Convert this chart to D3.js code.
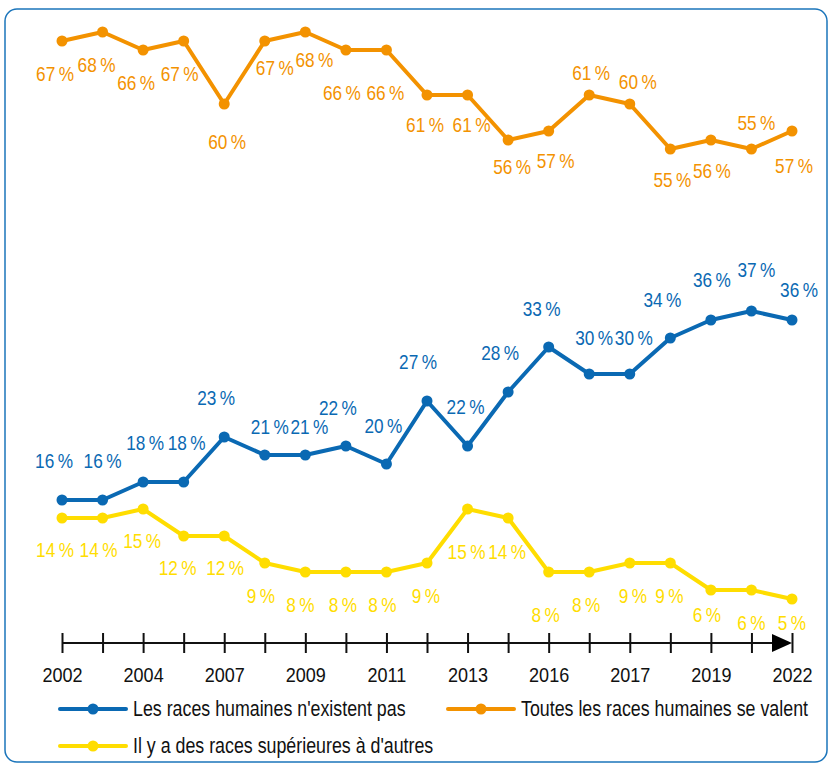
<!DOCTYPE html>
<html>
<head>
<meta charset="utf-8">
<script src="https://cdn.jsdelivr.net/npm/d3@7"></script>
<style>
  body { margin: 0; background: #fff; }
  svg text { font-family: "Liberation Sans", Arial, sans-serif; }
</style>
</head>
<body>
<svg id="chart" width="831" height="765"></svg>
<script>
// survey waves (19), only every other one is labelled on the axis
const waves = d3.range(19);
const tickLabels = ['2002', '2004', '2007', '2009', '2011', '2013', '2016', '2017', '2019', '2022'];

const seriesNames = ['Les races humaines n\'existent pas', 'Toutes les races humaines se valent', 'Il y a des races supérieures à d\'autres'];
const valuesExistPas = [16, 16, 18, 18, 23, 21, 21, 22, 20, 27, 22, 28, 33, 30, 30, 34, 36, 37, 36];
const valuesSeValent = [67, 68, 66, 67, 60, 67, 68, 66, 66, 61, 61, 56, 57, 61, 60, 55, 56, 55, 57];
const valuesSuperieures = [14, 14, 15, 12, 12, 9, 8, 8, 8, 9, 15, 14, 8, 8, 9, 9, 6, 6, 5];

// hand placement of the value labels, relative to each point [dx, dy]
const labelPosExistPas = [[-8,-32],[0,-32],[2,-32],[3,-32],[-8,-32],[5,-21],[4,-21],[-8,-31],[-3,-31],[-9,-32],[-2,-32],[-8,-32],[-7,-31],[5,-29],[4,-29],[-8,-31],[1,-33],[5,-34],[7,-23]];
const labelPosSeValent = [[-7,40],[-6,40],[-7,40],[-4,40],[3,45],[10,34],[9,35],[-4,50],[-1,50],[-2,37],[4,37],[4,34],[7,37],[2,-15],[8,-15],[2,38],[1,38],[5,-19],[2,42]];
const labelPosSuperieures = [[-7,39],[-4,39],[-1,39],[-6,39],[1,39],[-4,40],[-5,40],[-3,40],[-4,40],[-1,40],[-1,50],[-1,41],[-3,50],[-3,40],[3,40],[-1,40],[-4,32],[0,40],[0,31]];

const colors = ['#0a69b3', '#f39200', '#ffdd00'];

// the original uses a condensed face: squeeze a regular one horizontally
const squeeze = 0.82;
const condensed = (px, py, k = squeeze) => `translate(${px},${py}) scale(${k},1)`;

const svg = d3.select('#chart');

// frame
svg.append('rect')
    .attr('x', 5).attr('y', 9)
    .attr('width', 822).attr('height', 753)
    .attr('rx', 12)
    .attr('fill', 'none')
    .attr('stroke', '#1b75bb')
    .attr('stroke-width', 1.5);

const x = d3.scalePoint().domain(waves).range([62, 792]);
const y = d3.scaleLinear().domain([0, 68]).range([644, 32]);

// axis
const axisY = y(0) - 1;
const axis = d3.axisBottom(x)
    .tickSize(10)
    .tickFormat(i => i % 2 === 0 ? tickLabels[i / 2] : '');
const gAxis = svg.append('g')
    .attr('transform', `translate(0,${axisY})`)
    .call(axis);
gAxis.select('.domain').remove();
gAxis.selectAll('.tick line')
    .attr('y1', -10).attr('y2', 10)
    .attr('stroke', '#111').attr('stroke-width', 2);
gAxis.selectAll('.tick text')
    .attr('y', null).attr('dy', null)
    .attr('transform', condensed(0, 39, 0.86))
    .attr('fill', '#111')
    .style('font-size', '21px');
gAxis.append('line')
    .attr('x1', x(0)).attr('x2', x(18) - 10)
    .attr('stroke', '#111').attr('stroke-width', 2);
gAxis.append('path')
    .attr('d', `M${x(18) - 20},-9L${x(18)},0L${x(18) - 20},9Z`)
    .attr('fill', '#000');

const line = d3.line().x((d, i) => x(i)).y(d => y(d));

const series = [
    { values: valuesSeValent, pos: labelPosSeValent, color: colors[1] },
    { values: valuesExistPas, pos: labelPosExistPas, color: colors[0] },
    { values: valuesSuperieures, pos: labelPosSuperieures, color: colors[2] }
];

series.forEach(s => {
    const g = svg.append('g');
    g.append('path')
        .attr('d', line(s.values))
        .attr('fill', 'none')
        .attr('stroke', s.color)
        .attr('stroke-width', 4)
        .attr('stroke-linejoin', 'round');
    g.selectAll('circle')
        .data(s.values)
        .enter()
        .append('circle')
        .attr('cx', (d, i) => x(i))
        .attr('cy', d => y(d))
        .attr('r', 5.5)
        .attr('fill', s.color);
    g.selectAll('text')
        .data(s.values)
        .enter()
        .append('text')
        .attr('transform', (d, i) => condensed(x(i) + s.pos[i][0], y(d) + s.pos[i][1]))
        .attr('text-anchor', 'middle')
        .attr('fill', s.color)
        .style('font-size', '21px')
        .text(d => `${d}\u2009%`);
});

// legend
const legendItems = [
    { name: seriesNames[0], color: colors[0], lx: 60, ly: 709 },
    { name: seriesNames[1], color: colors[1], lx: 448, ly: 709 },
    { name: seriesNames[2], color: colors[2], lx: 60, ly: 746 }
];
const legend = svg.append('g');
legendItems.forEach(item => {
    legend.append('line')
        .attr('x1', item.lx).attr('x2', item.lx + 66)
        .attr('y1', item.ly).attr('y2', item.ly)
        .attr('stroke', item.color).attr('stroke-width', 4)
        .attr('stroke-linecap', 'round');
    legend.append('circle')
        .attr('cx', item.lx + 33).attr('cy', item.ly)
        .attr('r', 5.5).attr('fill', item.color);
    legend.append('text')
        .attr('transform', condensed(item.lx + 73, item.ly + 7, 0.81))
        .attr('fill', '#111')
        .style('font-size', '22px')
        .text(item.name);
});
</script>
</body>
</html>
